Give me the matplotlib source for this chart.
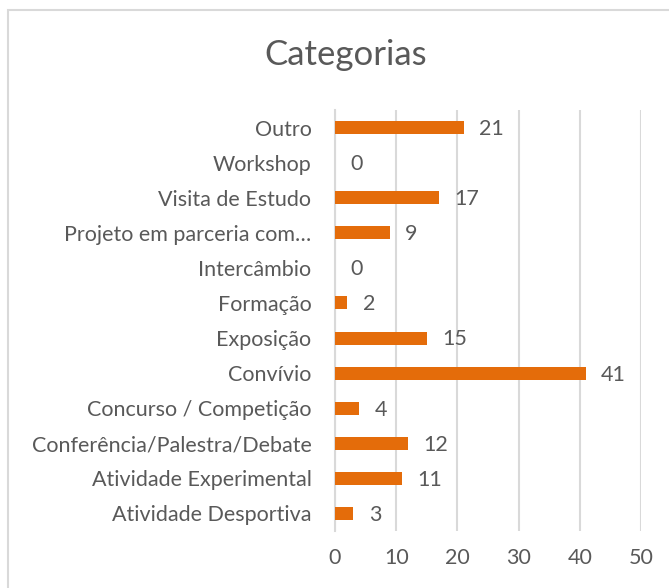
import matplotlib.pyplot as plt
from matplotlib.patches import Rectangle

categories = ["Atividade Desportiva", "Atividade Experimental", "Conferência/Palestra/Debate",
              "Concurso / Competição", "Convívio", "Exposição", "Formação", "Intercâmbio",
              "Projeto em parceria com…", "Visita de Estudo", "Workshop", "Outro"]
values = [3, 11, 12, 4, 41, 15, 2, 0, 9, 17, 0, 21]
xticks = [0, 10, 20, 30, 40, 50]

text_col = "#595959"
bar_col = "#E46C0A"
grid_col = "#D9D9D9"
plt.rcParams['font.family'] = ['Lato', 'DejaVu Sans']

fig = plt.figure(figsize=(6.69, 5.88), dpi=100)
fig.patches.append(Rectangle((8 / 669, -0.1), 1.2, 1 - 10 / 588 + 0.1, transform=fig.transFigure,
                             fill=False, edgecolor=grid_col, linewidth=1.5))
ax = fig.add_axes([335 / 669, 57 / 588, 306 / 669, 421 / 588])

y = range(len(categories))
ax.barh(y, values, height=0.37, color=bar_col, zorder=3)
for i, v in enumerate(values):
    ax.annotate(str(v), (v, i), xytext=(11, -1), textcoords="offset points",
                va="center", ha="left", fontsize=15.5, color=text_col)

ax.set_xlim(0, 50)
ax.set_ylim(-0.5, len(categories) - 0.5)
ax.set_xticks(xticks)
ax.set_yticks(list(y))
ax.set_yticklabels(categories)
ax.tick_params(axis="both", length=0, labelsize=15.5, colors=text_col)
ax.tick_params(axis="y", pad=17)
ax.tick_params(axis="x", pad=12)
ax.grid(axis="x", color=grid_col, linewidth=1.5, zorder=0)
for s in ["top", "right", "bottom"]:
    ax.spines[s].set_visible(False)
ax.spines["left"].set_color(grid_col)
ax.spines["left"].set_linewidth(1.5)

fig.text(346 / 669, 1 - 55 / 588, "Categorias", ha="center", va="center",
         fontsize=25, color=text_col)

fig.savefig("out.png", dpi=100)
